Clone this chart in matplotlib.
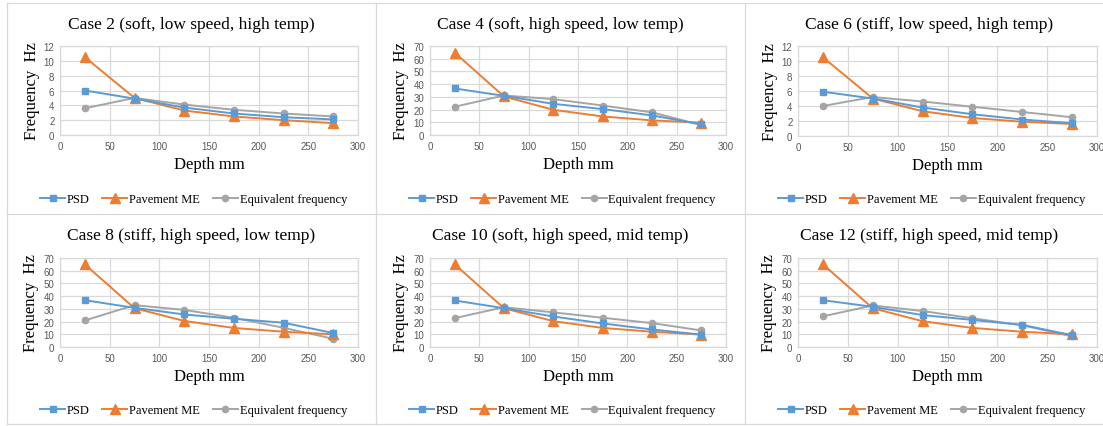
import matplotlib
matplotlib.use("Agg")
import matplotlib.pyplot as plt
from matplotlib.lines import Line2D

depth = [25, 75, 125, 175, 225, 275]

titles = [
    "Case 2 (soft, low speed, high temp)",
    "Case 4 (soft, high speed, low temp)",
    "Case 6 (stiff, low speed, high temp)",
    "Case 8 (stiff, high speed, low temp)",
    "Case 10 (soft, high speed, mid temp)",
    "Case 12 (stiff, high speed, mid temp)",
]

psd_case2 = [6.0, 4.9, 3.7, 2.9, 2.4, 2.1]
pme_case2 = [10.5, 5.0, 3.3, 2.5, 2.0, 1.6]
eqf_case2 = [3.6, 5.0, 4.1, 3.4, 2.9, 2.5]

psd_case4 = [36.6, 30.8, 24.5, 20.4, 15.4, 8.4]
pme_case4 = [64.8, 30.3, 19.8, 14.6, 11.5, 9.7]
eqf_case4 = [22.2, 31.1, 28.2, 23.2, 17.8, 7.8]

psd_case6 = [5.9, 5.0, 3.8, 2.9, 2.2, 1.7]
pme_case6 = [10.5, 5.0, 3.3, 2.4, 1.9, 1.6]
eqf_case6 = [4.0, 5.2, 4.6, 3.9, 3.2, 2.5]

psd_case8 = [36.8, 30.8, 25.6, 22.2, 19.1, 11.0]
pme_case8 = [65.0, 30.5, 20.5, 15.0, 12.0, 10.0]
eqf_case8 = [20.9, 32.9, 29.2, 23.0, 15.1, 6.5]

psd_case10 = [36.6, 30.5, 24.0, 18.5, 13.8, 9.7]
pme_case10 = [65.0, 30.5, 20.3, 15.0, 12.0, 9.8]
eqf_case10 = [22.7, 31.3, 27.2, 23.0, 18.8, 13.0]

psd_case12 = [36.8, 31.6, 25.1, 21.3, 17.4, 9.3]
pme_case12 = [65.0, 30.5, 20.3, 15.0, 12.0, 10.0]
eqf_case12 = [24.1, 32.7, 28.3, 22.6, 17.1, 8.3]

series_names = ["PSD", "Pavement ME", "Equivalent frequency"]
psd_all = [psd_case2, psd_case4, psd_case6, psd_case8, psd_case10, psd_case12]
pme_all = [pme_case2, pme_case4, pme_case6, pme_case8, pme_case10, pme_case12]
eqf_all = [eqf_case2, eqf_case4, eqf_case6, eqf_case8, eqf_case10, eqf_case12]
ymax = [12, 70, 12, 70, 70, 70]
ystep = [2, 10, 2, 10, 10, 10]

colors = ["#5B9BD5", "#ED7D31", "#A5A5A5"]
markers = ["s", "^", "o"]
msizes = [5, 6.5, 4.5]

W, H = 1103, 427
fig = plt.figure(figsize=(W / 100, H / 100), dpi=100)
serif = "Liberation Serif"
sans = "Liberation Sans"

# axes placement in pixels: (left, right, top, bottom)
boxes = [
    (60, 358, 47, 136),
    (430, 726, 47, 136),
    (798, 1097, 47, 137),
    (60, 358, 259, 348),
    (430, 726, 259, 348),
    (798, 1097, 259, 348),
]
cell_x = [(7, 376), (376, 745), (745, 1114)]
cell_y = [(4, 215), (215, 425)]

grid_c = "#D9D9D9"

for i in range(6):
    l, r, t, b = boxes[i]
    ax = fig.add_axes([l / W, 1 - b / H, (r - l) / W, (b - t) / H])
    data = [psd_all[i], pme_all[i], eqf_all[i]]
    for k in range(3):
        ax.plot(depth, data[k], color=colors[k], marker=markers[k], ms=msizes[k],
                lw=1.4, label=series_names[k], zorder=3 + (2 - k) * 0.1)
    ax.set_xlim(0, 300)
    ax.set_ylim(0, ymax[i])
    ax.set_xticks(range(0, 301, 50))
    ax.set_yticks(range(0, ymax[i] + 1, ystep[i]))
    ax.grid(True, color=grid_c, lw=0.9)
    ax.set_axisbelow(True)
    for s in ax.spines.values():
        s.set_color(grid_c)
        s.set_linewidth(0.9)
    ax.tick_params(length=0, labelsize=7, labelcolor="#595959", pad=4)
    for lab in ax.get_xticklabels() + ax.get_yticklabels():
        lab.set_fontfamily(sans)
    ax.set_xlabel("Depth mm", fontfamily=serif, fontsize=12, labelpad=4)
    ax.set_ylabel("Frequency  Hz", fontfamily=serif, fontsize=12, labelpad=3)

    row, col = divmod(i, 3)
    cx = (cell_x[col][0] + cell_x[col][1]) / 2
    ty = cell_y[row][0] + 21
    fig.text(cx / W, 1 - ty / H, titles[i], ha="center", va="center",
             fontfamily=serif, fontsize=12.5)
    ly = cell_y[row][0] + 196
    ax.legend(loc="center", bbox_to_anchor=((cx + 2) / W, 1 - ly / H),
              bbox_transform=fig.transFigure, ncol=3, frameon=False,
              prop={"family": serif, "size": 9}, handlelength=2.0,
              columnspacing=1.0, handletextpad=0.15)

# panel borders
for x in [7, 376, 745]:
    fig.add_artist(Line2D([x / W, x / W], [1 - 4 / H, 1 - 425 / H], color=grid_c, lw=0.9))
for y in [4, 215, 425]:
    fig.add_artist(Line2D([7 / W, 1.0], [1 - y / H, 1 - y / H], color=grid_c, lw=0.9))

fig.savefig("out.png", dpi=100)
